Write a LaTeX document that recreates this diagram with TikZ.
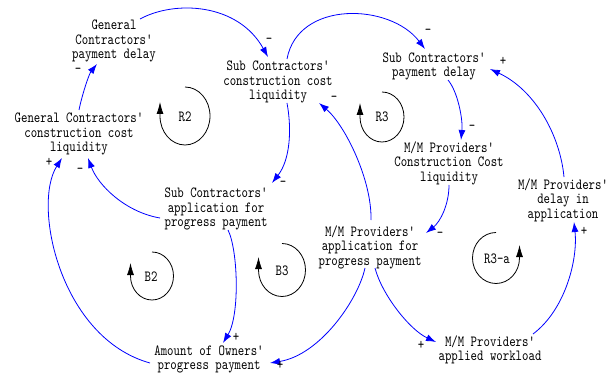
\documentclass[tikz,border=0pt]{standalone}
\usepackage{fontspec}
\newfontfamily\dfont{lmmono10-regular}[Extension=.otf, FakeStretch=0.79]
\usetikzlibrary{arrows.meta,calc}

\begin{document}
\begin{tikzpicture}[x=1pt,y=-1pt,
  var/.style={font=\dfont\fontsize{15.5}{14.5}\selectfont, align=center, inner sep=0pt, text=black},
  pol/.style={font=\dfont\fontsize{15.5}{14.5}\selectfont, inner sep=0pt, text=black},
  conn/.style={blue, line width=0.8pt, -{Latex[length=10pt,width=7pt]}},
  loopc/.style={black, line width=0.8pt, -{Latex[length=12pt,width=7pt]}},
]
\useasboundingbox (0,0) rectangle (610,374);

% variables
\node[var] (gcpd) at (114,41)    {General\\Contractors'\\payment delay};
\node[var] (sccl) at (278,82)    {Sub Contractors'\\construction cost\\liquidity};
\node[var] (scpd) at (434,66.5)  {Sub Contractors'\\payment delay};
\node[var] (mmcl) at (449,163)   {M/M Providers'\\Construction Cost\\liquidity};
\node[var] (gccl) at (79,134)    {General Contractors'\\construction cost\\liquidity};
\node[var] (scap) at (216,209)   {Sub Contractors'\\application for\\progress payment};
\node[var] (mmap) at (370,247)   {M/M Providers'\\application for\\progress payment};
\node[var] (mmda) at (563,200)   {M/M Providers'\\delay in\\application};
\node[var] (mmaw) at (490,350)   {M/M Providers'\\applied workload};
\node[var] (amop) at (209,359.5) {Amount of Owners'\\progress payment};

% causal links
\draw[conn] ($(gccl)+(0,-24)$) .. controls (82,95) and (89,74) .. ($(gcpd)+(-17,23)$);
\draw[conn] ($(gcpd)+(26,-22)$) .. controls (175,0) and (238,3) .. ($(sccl)+(-10,-25)$);
\draw[conn] ($(sccl)+(9,-23)$) .. controls (298,0) and (390,3) .. ($(scpd)+(-9,-17.5)$);
\draw[conn] ($(scpd)+(14,13.5)$) .. controls (458,92) and (463,120) .. ($(mmcl)+(12,-23)$);
\draw[conn] ($(sccl)+(9,21)$) .. controls (292,130) and (290,160) .. ($(scap)+(56,-26)$);
\draw[conn] ($(scap)+(-56,9)$) .. controls (125,212) and (98,185) .. ($(gccl)+(9,24)$);
\draw[conn] ($(amop)+(-59,3.5)$) .. controls (60,338) and (32,205) .. ($(gccl)+(-17,24)$);
\draw[conn] ($(scap)+(12,21)$) .. controls (238,250) and (240,315) .. ($(amop)+(14,-16.5)$);
\draw[conn] ($(mmap)+(-5,21)$) .. controls (358,300) and (320,355) .. ($(amop)+(61,3.5)$);
\draw[conn] ($(mmap)+(5,21)$) .. controls (382,295) and (410,330) .. ($(mmaw)+(-54,-8)$);
\draw[conn] ($(mmaw)+(43,-16)$) .. controls (565,310) and (578,260) .. ($(mmda)+(11,22)$);
\draw[conn] ($(mmda)+(1,-23)$) .. controls (560,135) and (535,90) .. ($(scpd)+(56,2.5)$);
\draw[conn] ($(mmap)+(1,-27)$) .. controls (372,180) and (345,125) .. ($(sccl)+(41,21)$);
\draw[conn] ($(mmcl)+(0,22)$) .. controls (449,205) and (440,222) .. ($(mmap)+(56,-14)$);

% link polarities
\node[pol] (pa) at (78,71)   {\textendash};
\node[pol] (pb) at (269,41)  {\textendash};
\node[pol] (pc) at (428,32)  {\textendash};
\node[pol] (pd) at (472,128) {\textendash};
\node[pol] (pe) at (283,184) {\textendash};
\node[pol] (pf) at (80,171)  {\textendash};
\node[pol] (pg) at (49,162)  {+};
\node[pol] (ph) at (236,337) {+};
\node[pol] (pi) at (280,365) {+};
\node[pol] (pj) at (421,345) {+};
\node[pol] (pk) at (584,231) {+};
\node[pol] (pl) at (503,61)  {+};
\node[pol] (pm) at (334,99)  {\textendash};
\node[pol] (pn) at (440,235) {\textendash};

% loop markers
\draw[loopc] (185,87) arc[start angle=-90, end angle=180, x radius=25, y radius=29] -- ++(0,-14);
\node[pol] (lR2) at (185,117) {R2};
\draw[loopc] (382,92) arc[start angle=-90, end angle=180, x radius=22, y radius=25] -- ++(0,-14);
\node[pol] (lR3) at (382,117) {R3};
\draw[loopc] (152,252) arc[start angle=-90, end angle=180, x radius=21.5, y radius=24] -- ++(0,-13);
\node[pol] (lB2) at (151,277) {B2};
\draw[loopc] (282,243.5) arc[start angle=-90, end angle=180, x radius=23.5, y radius=26.5] -- ++(0,-13);
\node[pol] (lB3) at (282,271) {B3};
\draw[loopc] (496,232.5) arc[start angle=-90, end angle=-360, x radius=23.5, y radius=25.5] -- ++(0,-13);
\node[pol] (lR3a) at (497,259) {R3-a};
\end{tikzpicture}
\end{document}
